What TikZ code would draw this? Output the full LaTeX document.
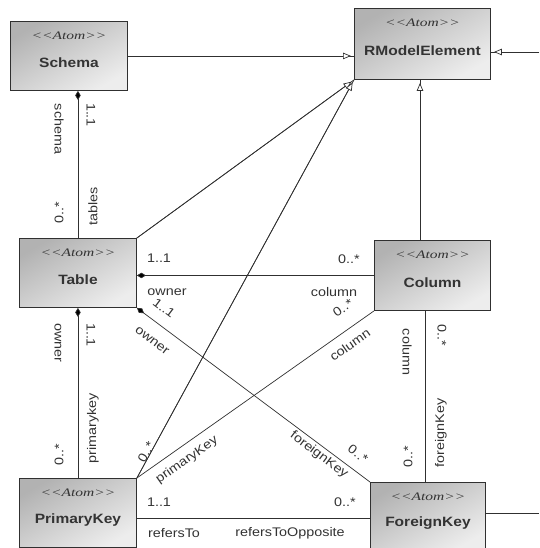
\documentclass[tikz,border=0pt]{standalone}
\usepackage{fontspec}
\setmainfont{Liberation Sans}[FakeStretch=1.15]
\newfontfamily\stereofont{Liberation Serif}[FakeStretch=1.35]
\usetikzlibrary{arrows.meta,calc}
\definecolor{lnc}{HTML}{303030}
\definecolor{txc}{HTML}{333333}
\tikzset{
  cls/.style={draw=lnc, line width=0.9pt, anchor=north west, inner sep=0pt,
    top color=black!30, bottom color=black!7, shading angle=30},
  st/.style={font=\stereofont\itshape\fontsize{11.5}{12}\selectfont, text=txc, inner sep=0pt},
  nm/.style={font=\bfseries\fontsize{13.5}{15}\selectfont, text=txc, inner sep=0pt},
  lab/.style={font=\fontsize{12.5}{14}\selectfont, text=txc, inner sep=0pt},
  conn/.style={draw=lnc, line width=0.7pt},
  comp/.style={conn, {Diamond[length=9pt,width=5.5pt,fill=black]}-},
  gen/.style={conn, -{Triangle[length=8pt,width=6.5pt,fill=white]}, shorten >=3pt},
}
\begin{document}
\begin{tikzpicture}[x=1pt,y=-1pt]
\useasboundingbox (0,0) rectangle (539,548);
% classes
\node[cls, minimum width=117pt, minimum height=69pt] (schema) at (10,21) {};
\node[cls, minimum width=136pt, minimum height=71pt] (rme) at (354,8) {};
\node[cls, minimum width=117pt, minimum height=69pt] (table) at (19,238) {};
\node[cls, minimum width=116pt, minimum height=70pt] (column) at (374,240) {};
\node[cls, minimum width=117pt, minimum height=69pt] (pk) at (19,478) {};
\node[cls, minimum width=115pt, minimum height=68pt] (fk) at (370,482) {};
% class texts
\foreach \c/\t in {schema/Schema, rme/RModelElement, table/Table, column/Column, pk/PrimaryKey, fk/ForeignKey}{
  \node[st] (\c-st) at ($(\c.north)+(0,15)$) {\textless\textless Atom\textgreater\textgreater};
  \node[nm] (\c-nm) at ($(\c.center)+(0,7)$) {\t};
}
% helper coordinates
\coordinate (xa) at (425,0);
\coordinate (xb) at (420,0);
\coordinate (yh) at (0,518);
\coordinate (rin) at (539,52);
\coordinate (fout) at (539,513);
% generalizations
\draw[conn] (schema.east) -- (schema.east -| rme.west);
\draw[gen] (schema.east) -- (schema.east -| rme.west);
\draw[conn] (rin) -- (rin -| rme.east);
\draw[gen] (rin) -- (rin -| rme.east);
\draw[conn] (table.north east) -- (rme.south west);
\draw[gen] (table.north east) -- (rme.south west);
\draw[conn] (pk.north east) -- (rme.south west);
\draw[gen] (pk.north east) -- (rme.south west);
\draw[conn] (column.north -| xb) -- (rme.south -| xb);
\draw[gen] (column.north -| xb) -- (rme.south -| xb);
\draw[conn] (fout -| fk.east) -- (fout);
% associations
\draw[comp] (table.north |- schema.south) -- (table.north);
\draw[comp] (table.south) -- (pk.north);
\draw[comp] (column.west -| table.east) -- (column.west);
\draw[comp] (table.south east) -- (fk.north west);
\draw[conn] (column.south west) -- (pk.north east);
\draw[conn] (yh -| pk.east) -- (yh -| fk.west);
\draw[conn] (column.south -| xa) -- (fk.north -| xa);
% labels schema-table
\node[lab, rotate=-90] (l1) at (59,129) {schema};
\node[lab, rotate=-90] (l2) at (91,115) {1..1};
\node[lab, rotate=90] (l3) at (93,206) {tables};
\node[lab, rotate=90] (l4) at (59,213) {0..*};
% table-pk
\node[lab, rotate=-90] (l5) at (58,343) {owner};
\node[lab, rotate=-90] (l6) at (91,335) {1..1};
\node[lab, rotate=90] (l7) at (93,428) {primarykey};
\node[lab, rotate=90] (l8) at (59,455) {0..*};
% table-column
\node[lab] (l9) at (159,258) {1..1};
\node[lab] (l10) at (167,292) {owner};
\node[lab] (l11) at (349,259) {0..*};
\node[lab] (l12) at (334,292) {column};
% table-fk
\node[lab, rotate=-37] (l13) at (164,308) {1..1};
\node[lab, rotate=-37] (l14) at (152,341) {owner};
\node[lab, rotate=-37] (l15) at (319,455) {foreignKey};
\node[lab, rotate=-37] (l16) at (358,454) {0..*};
% column-pk
\node[lab, rotate=35] (l17) at (343,308) {0..*};
\node[lab, rotate=35] (l18) at (350,345) {column};
\node[lab, rotate=35] (l19) at (187,460) {primaryKey};
\node[lab, rotate=61] (l20) at (146,452) {0..*};
% pk-fk
\node[lab] (l21) at (159,502) {1..1};
\node[lab] (l22) at (174,533) {refersTo};
\node[lab] (l23) at (290,533) {refersToOpposite};
\node[lab] (l24) at (345,502) {0..*};
% column-fk
\node[lab, rotate=-90] (l25) at (407,352) {column};
\node[lab, rotate=-90] (l26) at (442,335) {0..*};
\node[lab, rotate=90] (l27) at (441,433) {foreignKey};
\node[lab, rotate=90] (l28) at (408,457) {0..*};
\end{tikzpicture}
\end{document}
